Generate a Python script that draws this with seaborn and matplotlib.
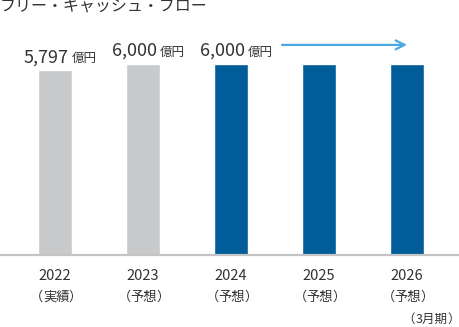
import matplotlib
matplotlib.use("Agg")
import matplotlib.pyplot as plt
import seaborn as sns
import pandas as pd

sns.set_theme(style="white")
plt.rcParams['font.family'] = ['Noto Sans CJK JP', 'DejaVu Sans']

years = ["2022", "2023", "2024", "2025", "2026"]
sublabels = ["実績", "予想", "予想", "予想", "予想"]
values = [5797, 6000, 6000, 6000, 6000]
value_labels = ["5,797", "6,000", "6,000", None, None]
colors = ["#c8c9cb", "#c8c9cb", "#005d9a", "#005d9a", "#005d9a"]
title = "フリー・キャッシュ・フロー"
unit = "億円"
period_note = "3月期"
lpar, rpar = "（", "）"

df = pd.DataFrame({"year": years, "value": values})

fig = plt.figure(figsize=(4.6, 3.27), dpi=100)
ax = fig.add_axes([0, 72 / 327, 1, 225 / 327])

sns.barplot(data=df, x="year", y="value", hue="year", palette=colors,
            legend=False, width=0.386, ax=ax, saturation=1)

ax.set_xlim(-0.625, 4.602)
ax.set_ylim(0, 6000 * 225 / 191)
for s in ["top", "right", "left"]:
    ax.spines[s].set_visible(False)
ax.spines["bottom"].set_color("#c4c4c4")
ax.spines["bottom"].set_linewidth(1.6)
ax.set_yticks([])
ax.set_xlabel("")
ax.set_ylabel("")
ax.tick_params(axis="x", length=0, pad=10, labelsize=10.5, labelcolor="#333333")

TXT = "#333333"


def paren_text(xy, xycoords, dx, dy, s, fs, half):
    kw = dict(xy=xy, xycoords=xycoords, textcoords="offset pixels",
              va="center", fontsize=fs, color=TXT)
    ax.annotate(s, xytext=(dx, dy), ha="center", **kw)
    ax.annotate(lpar, xytext=(dx - half, dy), ha="center", **kw)
    ax.annotate(rpar, xytext=(dx + half, dy), ha="center", **kw)


for i, sub in enumerate(sublabels):
    paren_text((i, 0), "data", 1, -42, sub, 9.5, 19.5)

for i, (v, lab) in enumerate(zip(values, value_labels)):
    if lab is None:
        continue
    ax.annotate(lab, xy=(i, v), xytext=(14, 8), textcoords="offset pixels",
                ha="right", va="baseline", fontsize=13, color=TXT)
    ax.annotate(unit, xy=(i, v), xytext=(17, 8), textcoords="offset pixels",
                ha="left", va="baseline", fontsize=9, color=TXT)

ax.annotate("", xy=(4, values[-1] * 1.1), xytext=(2.58, values[-1] * 1.1),
            arrowprops=dict(arrowstyle="->", color="#4aa8e0", lw=1.6,
                            mutation_scale=16, shrinkA=0, shrinkB=0))

fig.text(0.0, 1 - 7.5 / 327, title, ha="left", va="center", fontsize=11.5, color=TXT)

# period note, positioned in figure pixels
paren_text((0, 0), "figure pixels", 431.5, 327 - 319, period_note, 9, 22.5)

fig.savefig("out.png", dpi=100)
